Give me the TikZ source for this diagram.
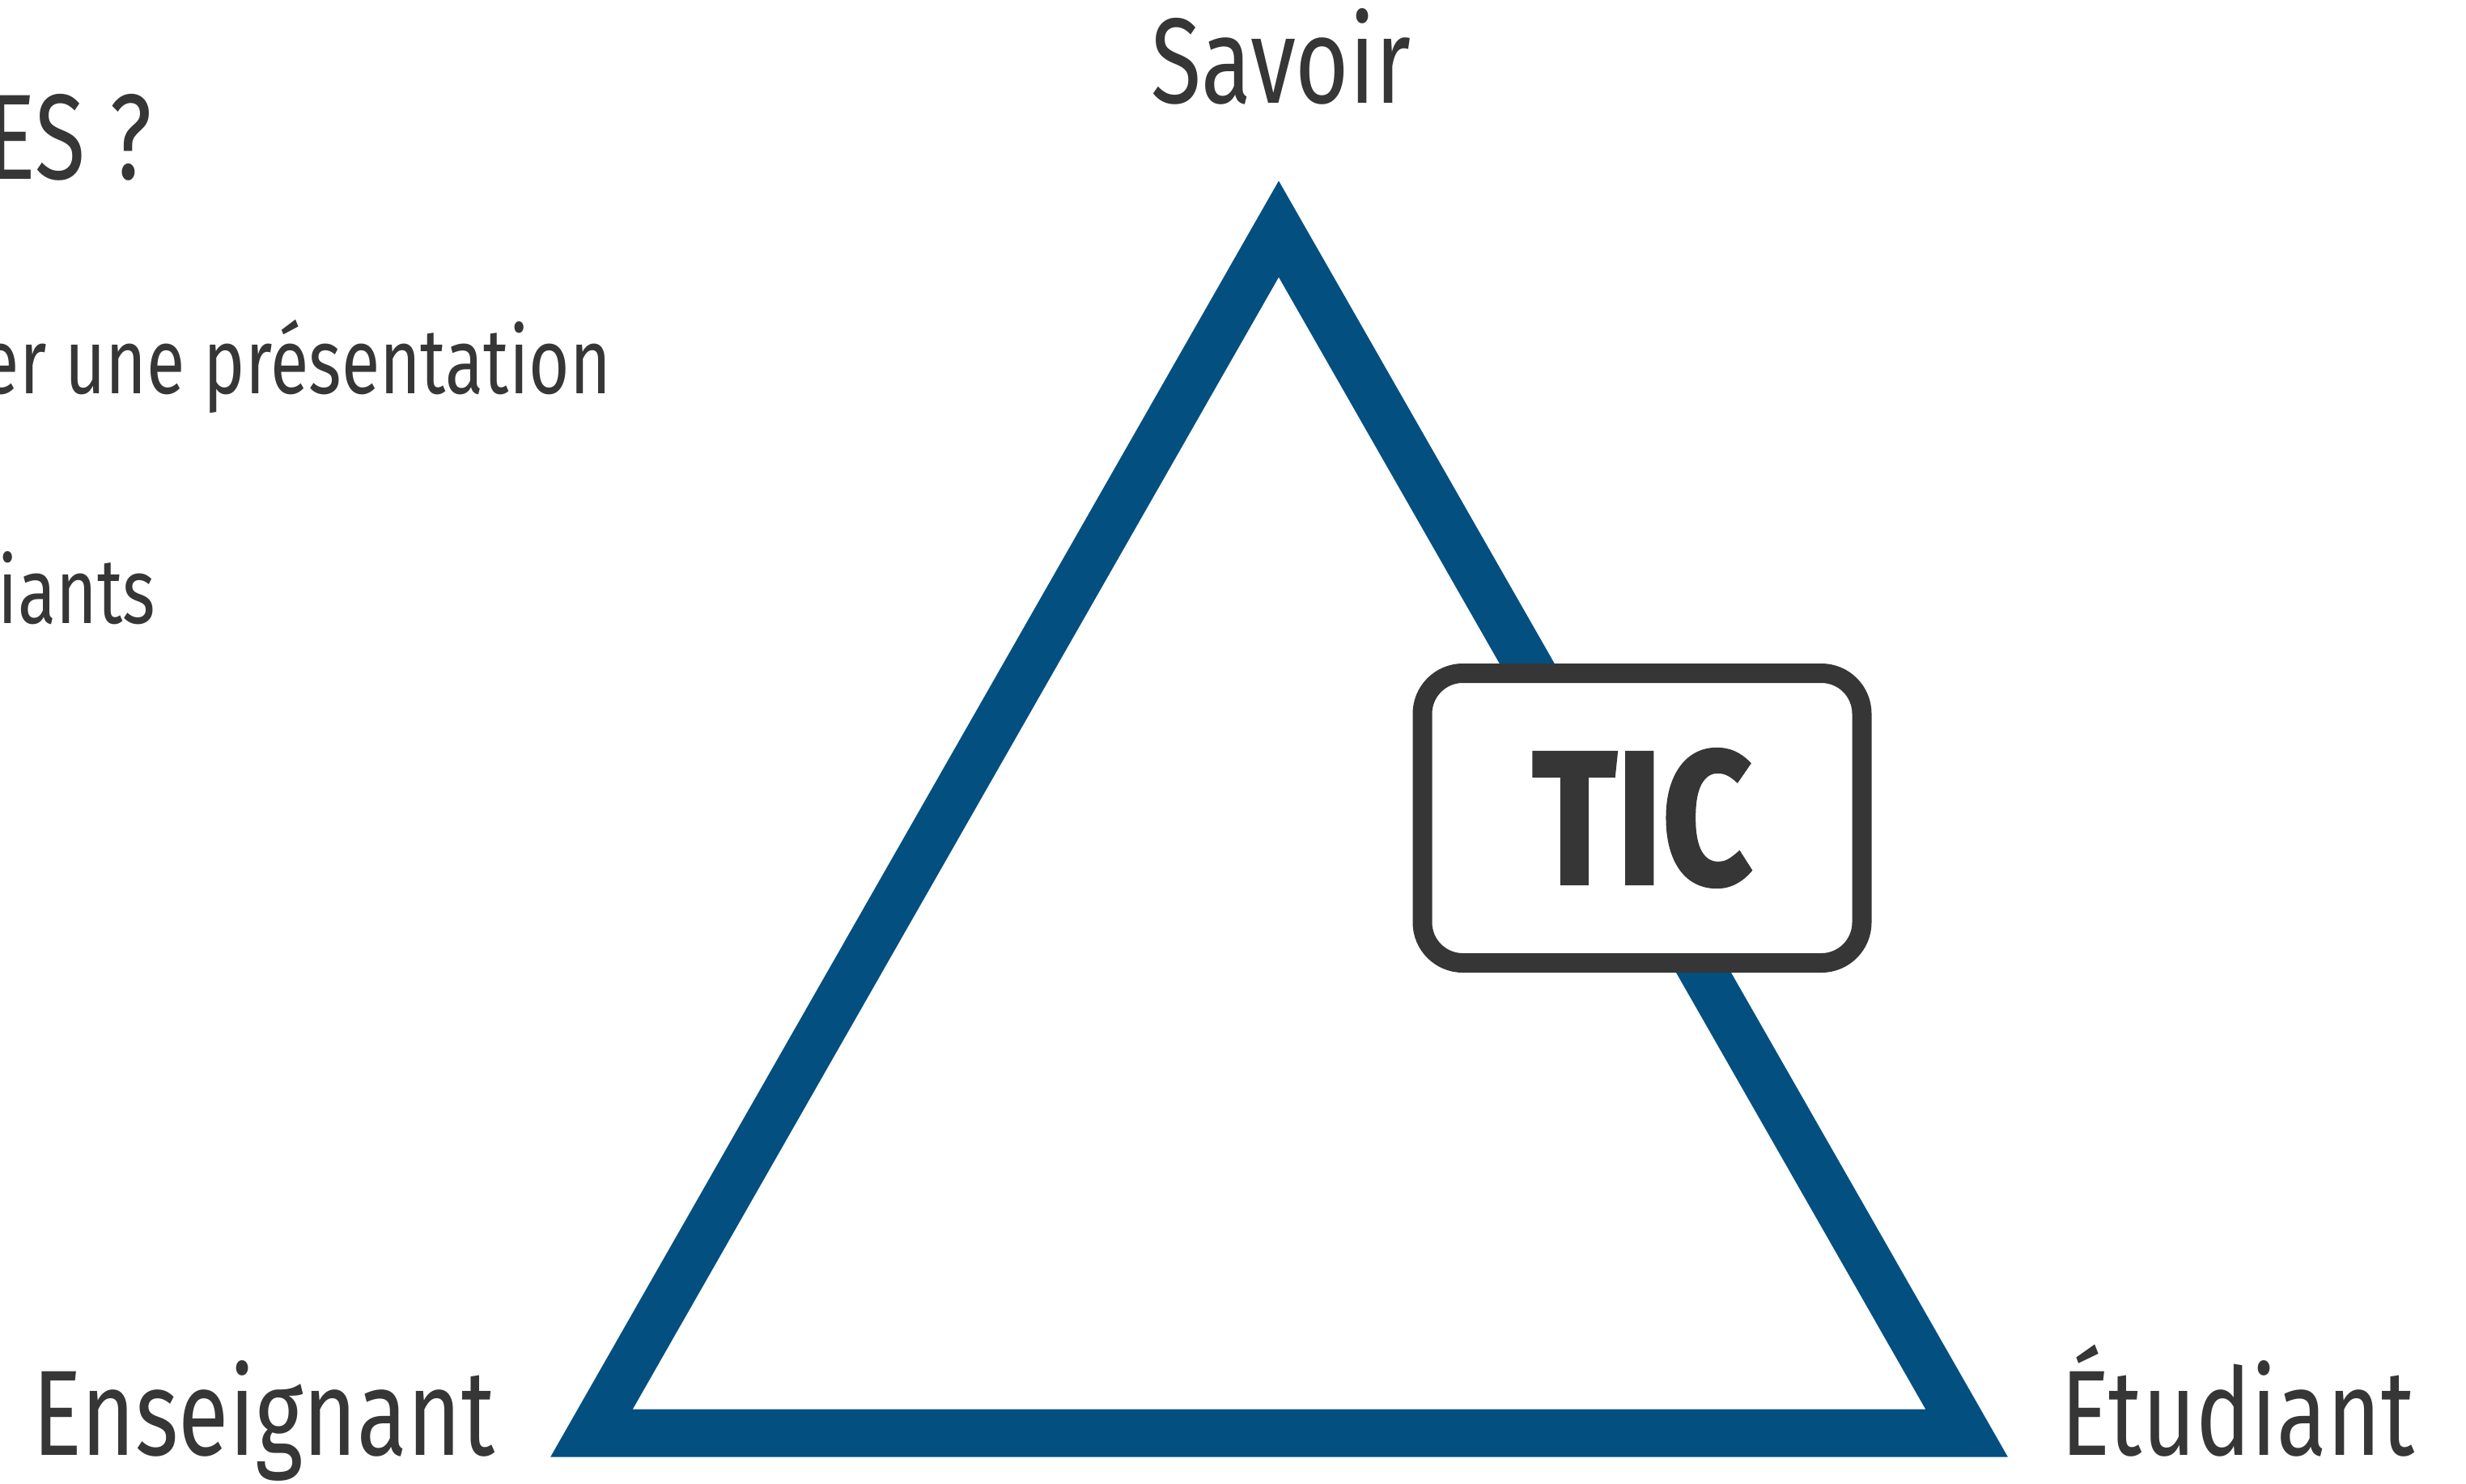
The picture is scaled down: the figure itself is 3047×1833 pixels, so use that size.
\documentclass[tikz,border=0pt]{standalone}
\usepackage{fontspec}
\setmainfont{Fira Sans}[FakeStretch=0.76]
\newfontfamily\ticfont{Fira Sans}[FakeStretch=0.82,UprightFont=* Bold,FakeBold=1.5]
\definecolor{triblue}{HTML}{034F80}
\definecolor{txtgray}{HTML}{363636}
\tikzset{
  tri/.style={draw=triblue,line width=59bp,line join=miter,miter limit=10},
  biglabel/.style={text=txtgray,inner sep=0pt,font=\fontsize{150bp}{160bp}\selectfont},
  smalllabel/.style={text=txtgray,inner sep=0pt,font=\fontsize{114bp}{120bp}\selectfont},
  ticbox/.style={draw=txtgray,fill=white,line width=24bp,rounded corners=50bp,
    minimum width=543bp,minimum height=358bp,inner sep=0pt,text=txtgray,
    font=\ticfont\fontsize{235bp}{240bp}\selectfont}
}
\begin{document}
\begin{tikzpicture}[x=1bp,y=-1bp]
\useasboundingbox (0,0) rectangle (3047,1833);
\fill[white] (0,0) rectangle (3047,1833);
\clip (0,0) rectangle (3047,1833);
\coordinate (S) at (1580,283);
\coordinate (E) at (731,1771);
\coordinate (U) at (2430,1771);
\draw[tri] (S) -- (E) -- (U) -- cycle;
\node[ticbox] (tic) at (2029,1011) {TIC};
\node[biglabel,anchor=base] (savoir) at (1583,127) {Savoir};
\node[biglabel,anchor=base] (ens) at (326,1798) {Enseignant};
\node[biglabel,anchor=base] (etu) at (2765,1798) {Étudiant};
\node[biglabel,anchor=base east] (title) at (188,221) {ES ?};
\node[smalllabel,anchor=base east] (l1) at (755,486) {er une présentation};
\node[smalllabel,anchor=base east] (l2) at (192,770) {iants};
\end{tikzpicture}
\end{document}
